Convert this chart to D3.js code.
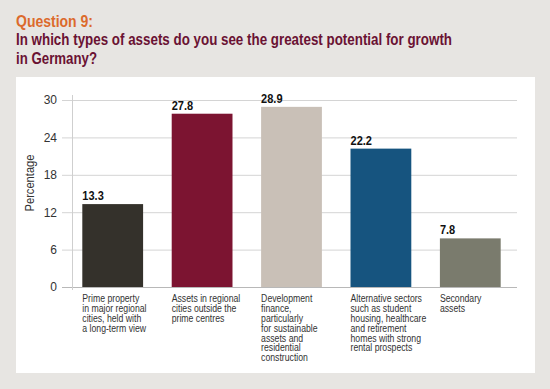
<!DOCTYPE html>
<html>
<head>
<meta charset="utf-8">
<script src="https://cdn.jsdelivr.net/npm/d3@7"></script>
<style>
  body { margin: 0; background: #e7e5e2; }
  svg { display: block; font-family: "Liberation Sans", Arial, sans-serif; }
</style>
</head>
<body>
<svg id="chart" width="550" height="389"></svg>
<script>
// chart data
const categories = [
  ["Prime property", "in major regional", "cities, held with", "a long-term view"],
  ["Assets in regional", "cities outside the", "prime centres"],
  ["Development", "finance,", "particularly", "for sustainable", "assets and", "residential", "construction"],
  ["Alternative sectors", "such as student", "housing, healthcare", "and retirement", "homes with strong", "rental prospects"],
  ["Secondary", "assets"]
];
const values = [13.3, 27.8, 28.9, 22.2, 7.8];
const barColors = ["#34312b", "#7c1431", "#c9c0b7", "#16547f", "#7a7b6d"];
const yTicks = [0, 6, 12, 18, 24, 30];

const svg = d3.select("#chart");

// title
svg.append("text")
  .attr("x", 16).attr("y", 27)
  .attr("fill", "#dc6a2c")
  .attr("font-size", 16).attr("font-weight", "bold")
  .attr("textLength", 77).attr("lengthAdjust", "spacingAndGlyphs")
  .text("Question 9:");

svg.append("text")
  .attr("x", 16).attr("y", 45)
  .attr("fill", "#6a1233")
  .attr("font-size", 16).attr("font-weight", "bold")
  .attr("textLength", 436).attr("lengthAdjust", "spacingAndGlyphs")
  .text("In which types of assets do you see the greatest potential for growth");

svg.append("text")
  .attr("x", 16).attr("y", 64)
  .attr("fill", "#6a1233")
  .attr("font-size", 16).attr("font-weight", "bold")
  .attr("textLength", 81).attr("lengthAdjust", "spacingAndGlyphs")
  .text("in Germany?");

// white panel
svg.append("rect")
  .attr("x", 16).attr("y", 77)
  .attr("width", 519).attr("height", 296)
  .attr("fill", "#fff");

const x = d3.scaleBand()
  .domain(d3.range(values.length))
  .range([68, 515])
  .paddingInner(0.32)
  .paddingOuter(0.16);

const y = d3.scaleLinear()
  .domain([0, 30])
  .range([287, 100]);

// gridlines + tick labels
const yAxis = d3.axisLeft(y)
  .tickValues(yTicks)
  .tickSize(-(517 - 62))
  .tickPadding(5);

const gy = svg.append("g")
  .attr("transform", "translate(62,0)")
  .call(yAxis);
gy.select(".domain").remove();
gy.selectAll(".tick line")
  .attr("stroke", (d) => (d === 0 ? "#b8b8b8" : "#d4d4d4"));
gy.selectAll(".tick text")
  .attr("fill", "#333")
  .attr("font-size", 12)
  .attr("font-family", "Liberation Sans, Arial, sans-serif");

// vertical axis line
svg.append("line")
  .attr("x1", 72.5).attr("x2", 72.5)
  .attr("y1", 95).attr("y2", 290)
  .attr("stroke", "#cfcfcf");

svg.append("text")
  .attr("transform", "translate(34,183) rotate(-90)")
  .attr("text-anchor", "middle")
  .attr("fill", "#333")
  .attr("font-size", 12)
  .attr("textLength", 57).attr("lengthAdjust", "spacingAndGlyphs")
  .text("Percentage");

// bars
svg.append("g")
  .selectAll("rect")
  .data(values)
  .join("rect")
  .attr("x", (d, i) => x(i))
  .attr("y", (d) => y(d))
  .attr("width", x.bandwidth())
  .attr("height", (d) => y(0) - y(d))
  .attr("fill", (d, i) => barColors[i]);

// value labels
svg.append("g")
  .selectAll("text")
  .data(values)
  .join("text")
  .attr("transform", (d, i) => `translate(${x(i)},${y(d) - 4}) scale(0.92,1)`)
  .attr("font-size", 12)
  .attr("font-weight", "bold")
  .attr("fill", "#111")
  .text((d) => d.toFixed(1));

// category labels (narrow face like the original)
const cat = svg.append("g")
  .selectAll("text")
  .data(categories)
  .join("text")
  .attr("transform", (d, i) => `translate(${x(i)},302) scale(0.87,1)`)
  .attr("font-size", 10)
  .attr("fill", "#333");

cat.selectAll("tspan")
  .data((d) => d)
  .join("tspan")
  .attr("x", 0)
  .attr("dy", (d, i) => (i === 0 ? 0 : 9.9))
  .text((d) => d);
</script>
</body>
</html>
